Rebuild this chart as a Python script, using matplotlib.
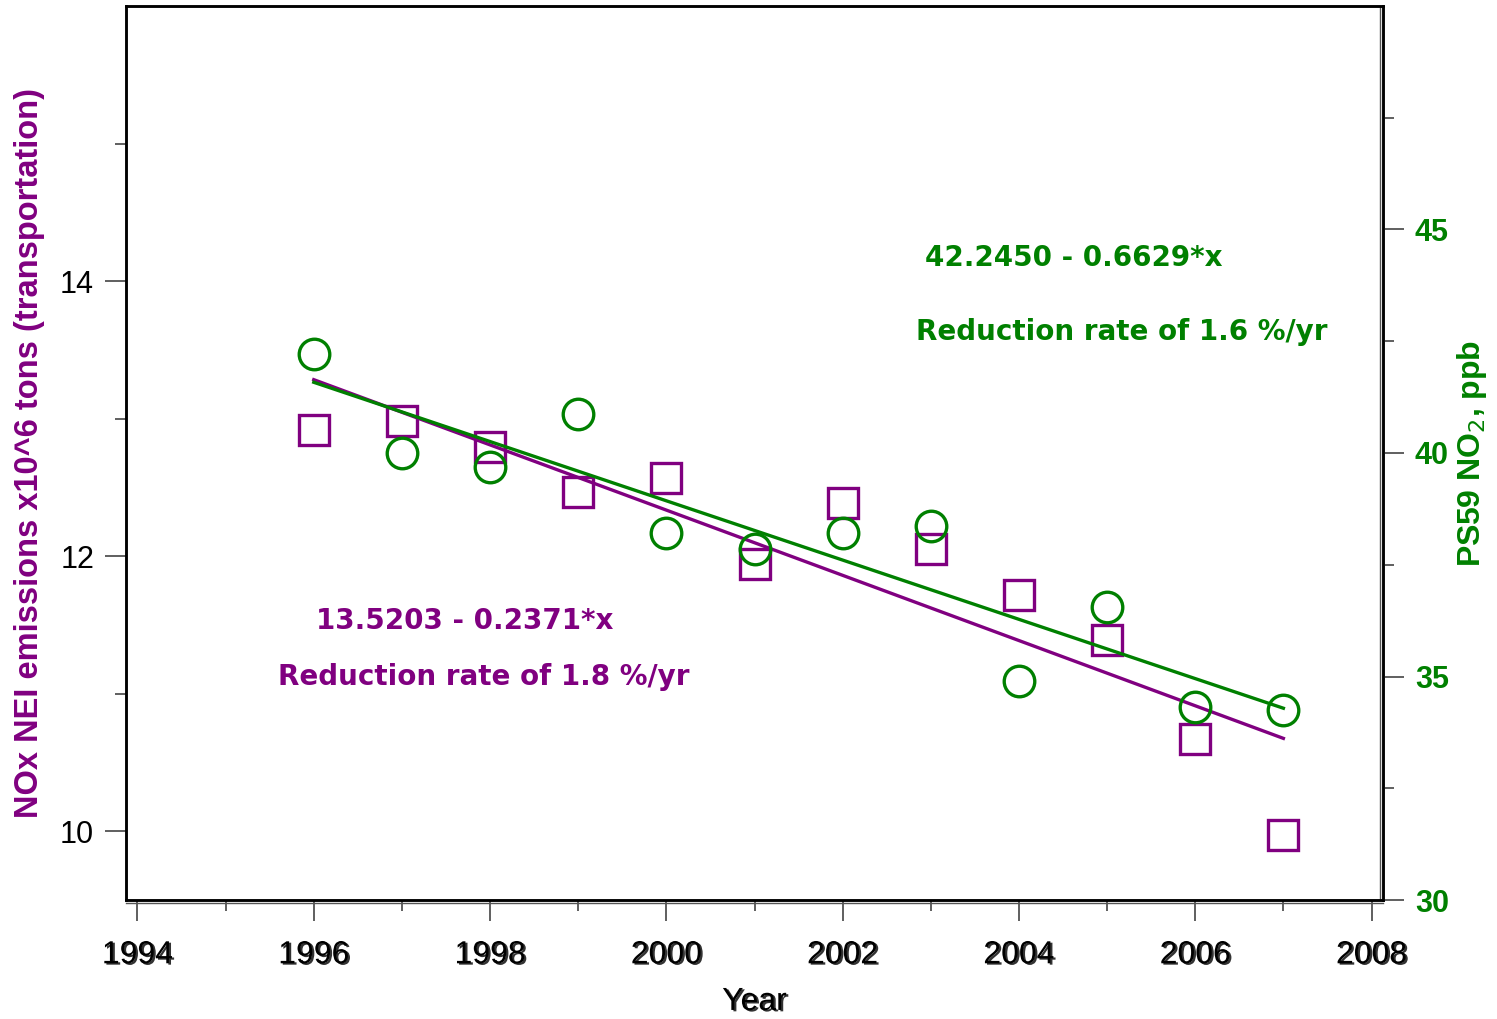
import numpy as np
import matplotlib
matplotlib.use("Agg")
import matplotlib.pyplot as plt
import matplotlib.patheffects as pe
from matplotlib.ticker import MultipleLocator, FixedLocator
from matplotlib.transforms import ScaledTranslation

plt.rcParams['font.family'] = ['Liberation Sans', 'DejaVu Sans']

PURPLE = "#800080"
GREEN = "#008000"

# yearly values
years = [1996, 1997, 1998, 1999, 2000, 2001, 2002, 2003, 2004, 2005, 2006, 2007]
nox_nei = [12.92, 12.98, 12.79, 12.47, 12.57, 11.94, 12.39, 12.05, 11.72, 11.39, 10.67, 9.97]
no2_ps59 = [42.22, 39.99, 39.69, 40.87, 38.22, 37.85, 38.22, 38.37, 34.91, 36.56, 34.31, 34.25]

# linear fits, x = year - 1995
nox_fit = (13.5203, -0.2371)
no2_fit = (42.2450, -0.6629)

xfit = np.array([1996, 2007])
nox_line = nox_fit[0] + nox_fit[1] * (xfit - 1995)
no2_line = no2_fit[0] + no2_fit[1] * (xfit - 1995)

fig = plt.figure(figsize=(14.97, 10.19), dpi=100)
ax = fig.add_axes([126 / 1497, 1 - 900 / 1019, (1383 - 126) / 1497, (900 - 6) / 1019])
ax2 = ax.twinx()

ax.set_xlim(1993.87, 2008.13)
ax.set_ylim(9.5, 16.0)
ax2.set_ylim(30, 50)

ms = 22
mew = 2.4
ax.plot(years, nox_nei, linestyle="none", marker="s", ms=ms, mfc="none",
        mec=PURPLE, mew=mew, zorder=3)
ax.plot(xfit, nox_line, color=PURPLE, lw=2.4, zorder=2)
ax2.plot(years, no2_ps59, linestyle="none", marker="o", ms=ms, mfc="none",
         mec=GREEN, mew=mew, zorder=3)
ax2.plot(xfit, no2_line, color=GREEN, lw=2.4, zorder=2)

# axes frame, right and bottom edges drawn doubled
for a in (ax, ax2):
    for s in a.spines.values():
        s.set_linewidth(1.8)
        s.set_color("black")
off = ScaledTranslation(-3 / 100, 0, fig.dpi_scale_trans)
ax.plot([1, 1], [0, 1], transform=ax.transAxes + off, color="#555555", lw=1.0,
        clip_on=False)
offb = ScaledTranslation(0, -3 / 100, fig.dpi_scale_trans)
ax.plot([0, 1], [0, 0], transform=ax.transAxes + offb, color="#555555", lw=1.0,
        clip_on=False)

# x axis
ax.xaxis.set_major_locator(MultipleLocator(2))
ax.xaxis.set_minor_locator(MultipleLocator(1))
ax.tick_params(axis="x", which="major", length=15, width=1.2, color="#444444",
               labelsize=23, pad=14)
ax.tick_params(axis="x", which="minor", length=8, width=1.2, color="#444444")
shadow = [pe.withSimplePatchShadow(offset=(1.5, -1), shadow_rgbFace="black", alpha=0.8)]
for lbl in ax.get_xticklabels():
    lbl.set_path_effects(shadow)
ax.set_xlabel("Year", fontsize=23, labelpad=12, path_effects=shadow)

# left axis
ax.yaxis.set_major_locator(FixedLocator([10, 12, 14]))
ax.yaxis.set_minor_locator(FixedLocator([11, 13, 15]))
ax.tick_params(axis="y", which="major", length=15, width=1.2, color="#444444",
               labelsize=22, pad=8)
ax.tick_params(axis="y", which="minor", length=8, width=1.2, color="#444444")
ax.set_ylabel("NOx NEI emissions x10^6 tons (transportation)", color=PURPLE,
              fontsize=23.5, fontweight="bold")
ax.yaxis.set_label_coords(-81 / 1257, 0.5)

# right axis
ax2.yaxis.set_major_locator(FixedLocator([30, 35, 40, 45]))
ax2.yaxis.set_minor_locator(FixedLocator([32.5, 37.5, 42.5, 47.5]))
ax2.tick_params(axis="y", which="major", length=15, width=1.2, color="#444444",
                labelsize=22, labelcolor=GREEN, pad=8)
ax2.tick_params(axis="y", which="minor", length=8, width=1.2, color="#444444")
for lbl in ax2.get_yticklabels():
    lbl.set_fontweight("bold")
ax2.set_ylabel("PS59 NO$_2$, ppb", color=GREEN, fontsize=23, fontweight="bold")
ax2.yaxis.set_label_coords(1 + 72 / 1257, 0.5)

# fit annotations
note = dict(fontsize=20, fontweight="bold", va="center", ha="left",
            family="DejaVu Sans")
ax.text(2002.93, 14.165, "42.2450 - 0.6629*x", color=GREEN, **note)
ax.text(2002.83, 13.628, "Reduction rate of 1.6 %/yr", color=GREEN, **note)
ax.text(1996.03, 11.532, "13.5203 - 0.2371*x", color=PURPLE, **note)
ax.text(1995.60, 11.118, "Reduction rate of 1.8 %/yr", color=PURPLE, **note)

fig.savefig("out.png", dpi=100, facecolor="white")
